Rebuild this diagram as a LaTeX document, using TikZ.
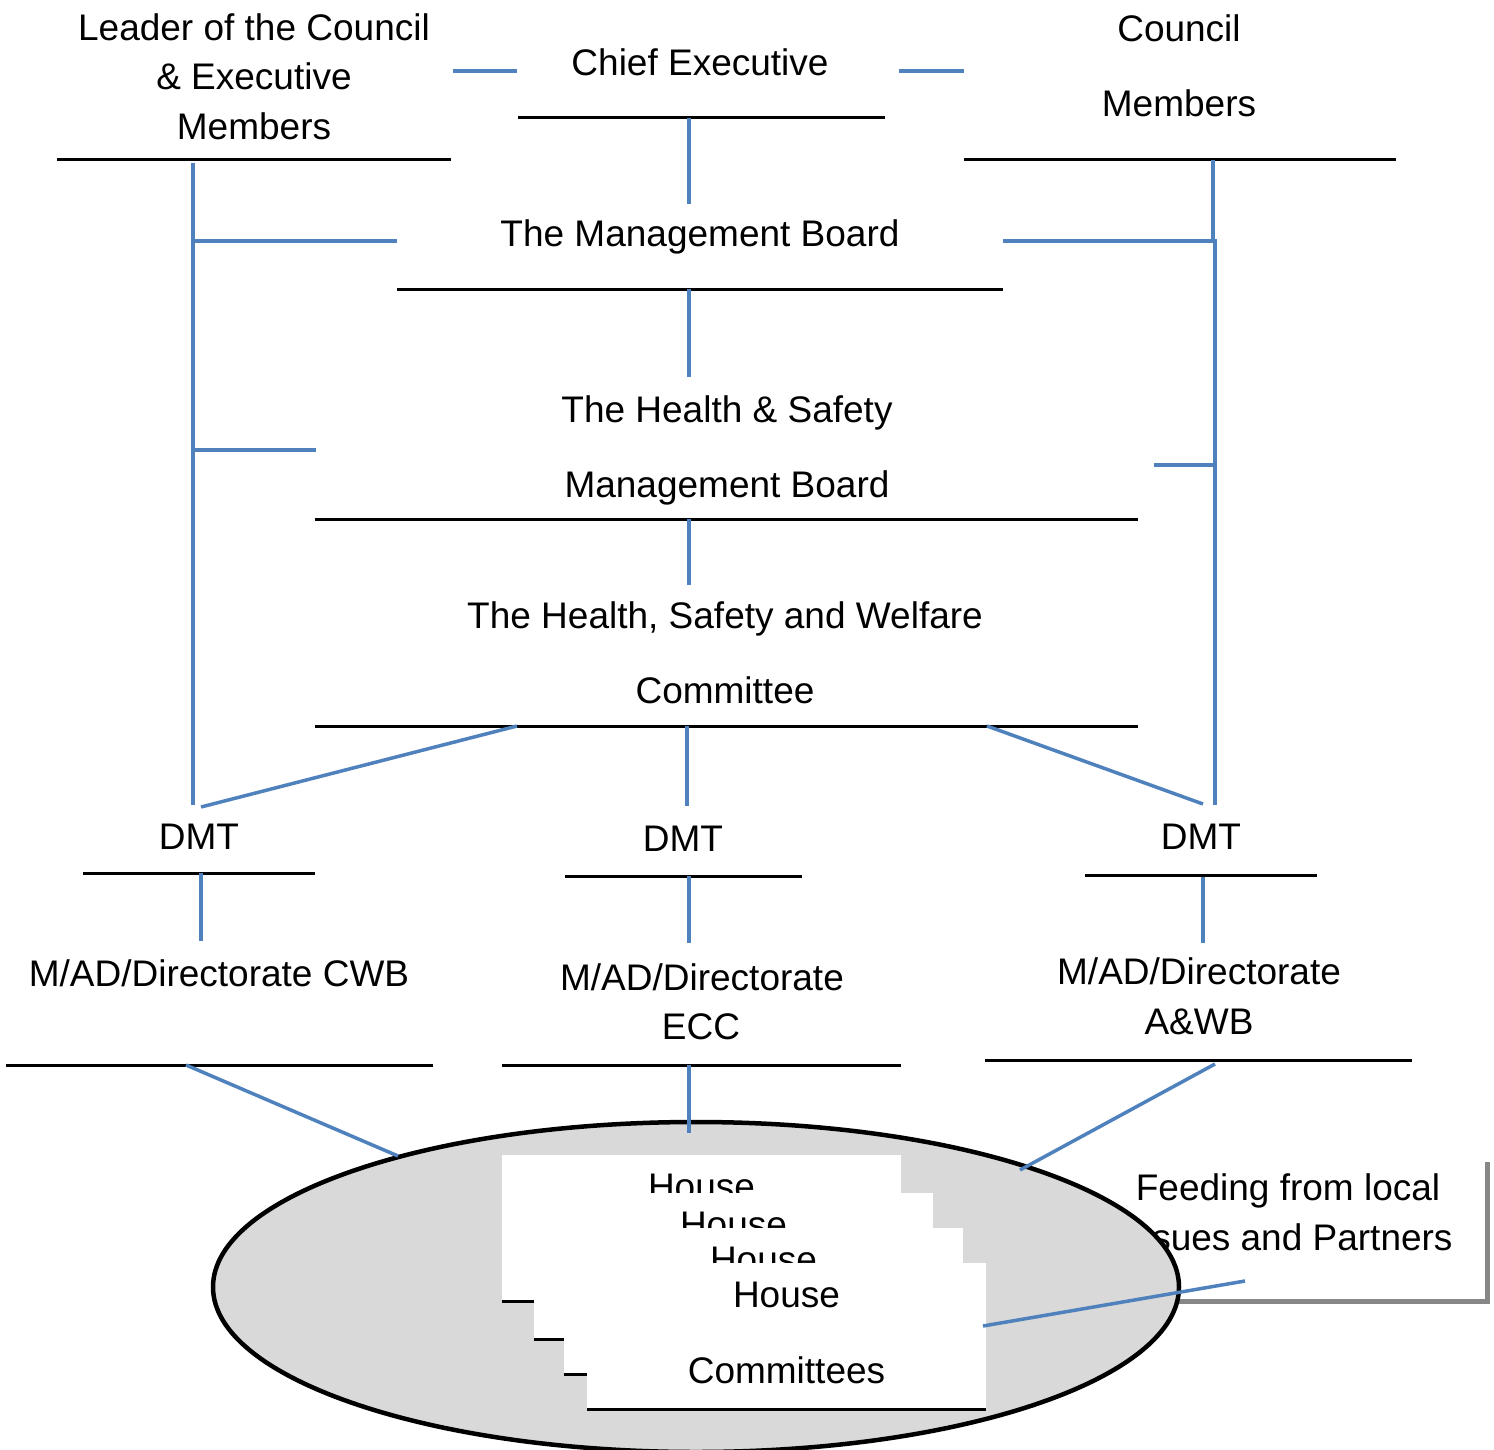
\documentclass[tikz,border=0pt]{standalone}
\usepackage{fontspec}
\setmainfont{Liberation Sans}
\definecolor{lnblue}{RGB}{79,129,189}
\definecolor{ellgray}{RGB}{217,217,217}
\definecolor{shadowgray}{RGB}{135,135,135}
\begin{document}
\begin{tikzpicture}[x=1pt,y=-1pt,
  txt/.style={font=\fontsize{37}{44}\selectfont, inner sep=0pt, anchor=base},
  ulrule/.style={black, line width=3pt},
  conn/.style={lnblue, line width=3.5pt},
  sheet/.style={fill=white}]
\useasboundingbox (0,0) rectangle (1494,1450);

% ---------- text blocks ----------
\node[txt] (ldr1) at (254,41) {Leader of the Council};
\node[txt] (ldr2) at (254,90) {\& Executive};
\node[txt] (ldr3) at (254,140) {Members};
\node[txt] (ce) at (700,76) {Chief Executive};
\node[txt] (cm1) at (1179,42) {Council};
\node[txt] (cm2) at (1179,117) {Members};
\node[txt] (mb) at (700,247) {The Management Board};
\node[txt] (hs1) at (727,422) {The Health \& Safety};
\node[txt] (hs2) at (727,497) {Management Board};
\node[txt] (hsw1) at (725,628) {The Health, Safety and Welfare};
\node[txt] (hsw2) at (725,703) {Committee};
\node[txt] (dmt1) at (199,849) {DMT};
\node[txt] (dmt2) at (683,851) {DMT};
\node[txt] (dmt3) at (1201,849) {DMT};
\node[txt] (cwb) at (219,986) {M/AD/Directorate CWB};
\node[txt] (ecc1) at (702,990) {M/AD/Directorate};
\node[txt] (ecc2) at (701,1039) {ECC};
\node[txt] (awb1) at (1199,984) {M/AD/Directorate};
\node[txt] (awb2) at (1199,1034) {A\&WB};

% ---------- underlines ----------
\draw[ulrule] (57,160) -- (451,160);
\draw[ulrule] (518,118) -- (885,118);
\draw[ulrule] (964,160) -- (1396,160);
\draw[ulrule] (397,289) -- (1003,289);
\draw[ulrule] (315,519) -- (1138,519);
\draw[ulrule] (315,726) -- (1138,726);
\draw[ulrule] (83,873) -- (315,873);
\draw[ulrule] (565,876) -- (802,876);
\draw[ulrule] (1085,875) -- (1317,875);
\draw[ulrule] (6,1065) -- (433,1065);
\draw[ulrule] (502,1065) -- (901,1065);
\draw[ulrule] (985,1060) -- (1412,1060);

% ---------- feeding box (behind the ellipse) ----------
\fill[shadowgray] (1115,1162) rectangle (1490,1304);
\fill[white] (1110,1157) rectangle (1485,1299);
\node[txt] (feed1) at (1288,1200) {Feeding from local};
\node[txt] (feed2) at (1288,1250) {Issues and Partners};

% ---------- ellipse ----------
\filldraw[fill=ellgray, draw=black, line width=4.5pt] (696,1287) ellipse [x radius=483pt, y radius=165pt];

% ---------- stacked house committee sheets ----------
\foreach \bx/\by/\nm in {502/1155/a, 534/1193/b, 564/1228/c}{
  \fill[sheet] (\bx,\by) rectangle ++(399,146);
  \draw[ulrule] (\bx,\by+146) -- ++(399,0);
  \node[txt] (house\nm) at (\bx+199.5,\by+44) {House};
}
\fill[sheet] (587,1263) rectangle ++(399,146);
\draw[ulrule] (587,1409) -- ++(399,0);
\node[txt] (housed) at (786.5,1307) {House};
\node[txt] (commd) at (786.5,1383) {Committees};

% ---------- connector end points ----------
\coordinate (ldrR) at (453,71);  \coordinate (ceL) at (517,71);
\coordinate (ceR) at (899,71);   \coordinate (cmL) at (964,71);
\coordinate (ceB) at (689,118);  \coordinate (mbT) at (689,204);
\coordinate (lvT) at (193,163);  \coordinate (lvB) at (193,805);
\coordinate (lvMB) at (193,241); \coordinate (mbL) at (397,241);
\coordinate (lvHS) at (193,450); \coordinate (hsL) at (316,450);
\coordinate (rvT) at (1213,160); \coordinate (rvM) at (1213,241);
\coordinate (rvM2) at (1215,241); \coordinate (rvB) at (1215,805);
\coordinate (mbR) at (1003,241);
\coordinate (hsR) at (1154,465); \coordinate (rvHS) at (1215,465);
\coordinate (mbB) at (689,289);  \coordinate (hsT) at (689,377);
\coordinate (hsB) at (689,519);  \coordinate (hswT) at (689,585);
\coordinate (hswBL) at (517,726); \coordinate (dmtaT) at (201,807);
\coordinate (hswBM) at (687,726); \coordinate (dmtbT) at (687,806);
\coordinate (hswBR) at (987,726); \coordinate (dmtcT) at (1203,804);
\coordinate (dmtaB) at (201,873); \coordinate (cwbT) at (201,941);
\coordinate (dmtbB) at (689,876); \coordinate (eccT) at (689,943);
\coordinate (dmtcB) at (1203,877); \coordinate (awbT) at (1203,943);
\coordinate (cwbB) at (186,1065); \coordinate (poolL) at (398,1156);
\coordinate (eccB) at (689,1065); \coordinate (poolT) at (689,1133);
\coordinate (awbB) at (1215,1064); \coordinate (poolR) at (1020,1170);
\coordinate (feedL) at (1245,1281); \coordinate (houseR) at (983,1326);

% ---------- connectors ----------
\draw[conn] (ldrR) -- (ceL);
\draw[conn] (ceR) -- (cmL);
\draw[conn] (ceB) -- (mbT);
\draw[conn] (lvT) -- (lvB);
\draw[conn] (lvMB) -- (mbL);
\draw[conn] (lvHS) -- (hsL);
\draw[conn] (rvT) -- (rvM);
\draw[conn] (mbR) -- (rvM2) -- (rvB);
\draw[conn] (hsR) -- (rvHS);
\draw[conn] (mbB) -- (hsT);
\draw[conn] (hsB) -- (hswT);
\draw[conn] (hswBL) -- (dmtaT);
\draw[conn] (hswBM) -- (dmtbT);
\draw[conn] (hswBR) -- (dmtcT);
\draw[conn] (dmtaB) -- (cwbT);
\draw[conn] (dmtbB) -- (eccT);
\draw[conn] (dmtcB) -- (awbT);
\draw[conn] (cwbB) -- (poolL);
\draw[conn] (eccB) -- (poolT);
\draw[conn] (awbB) -- (poolR);
\draw[conn] (feedL) -- (houseR);
\end{tikzpicture}
\end{document}
